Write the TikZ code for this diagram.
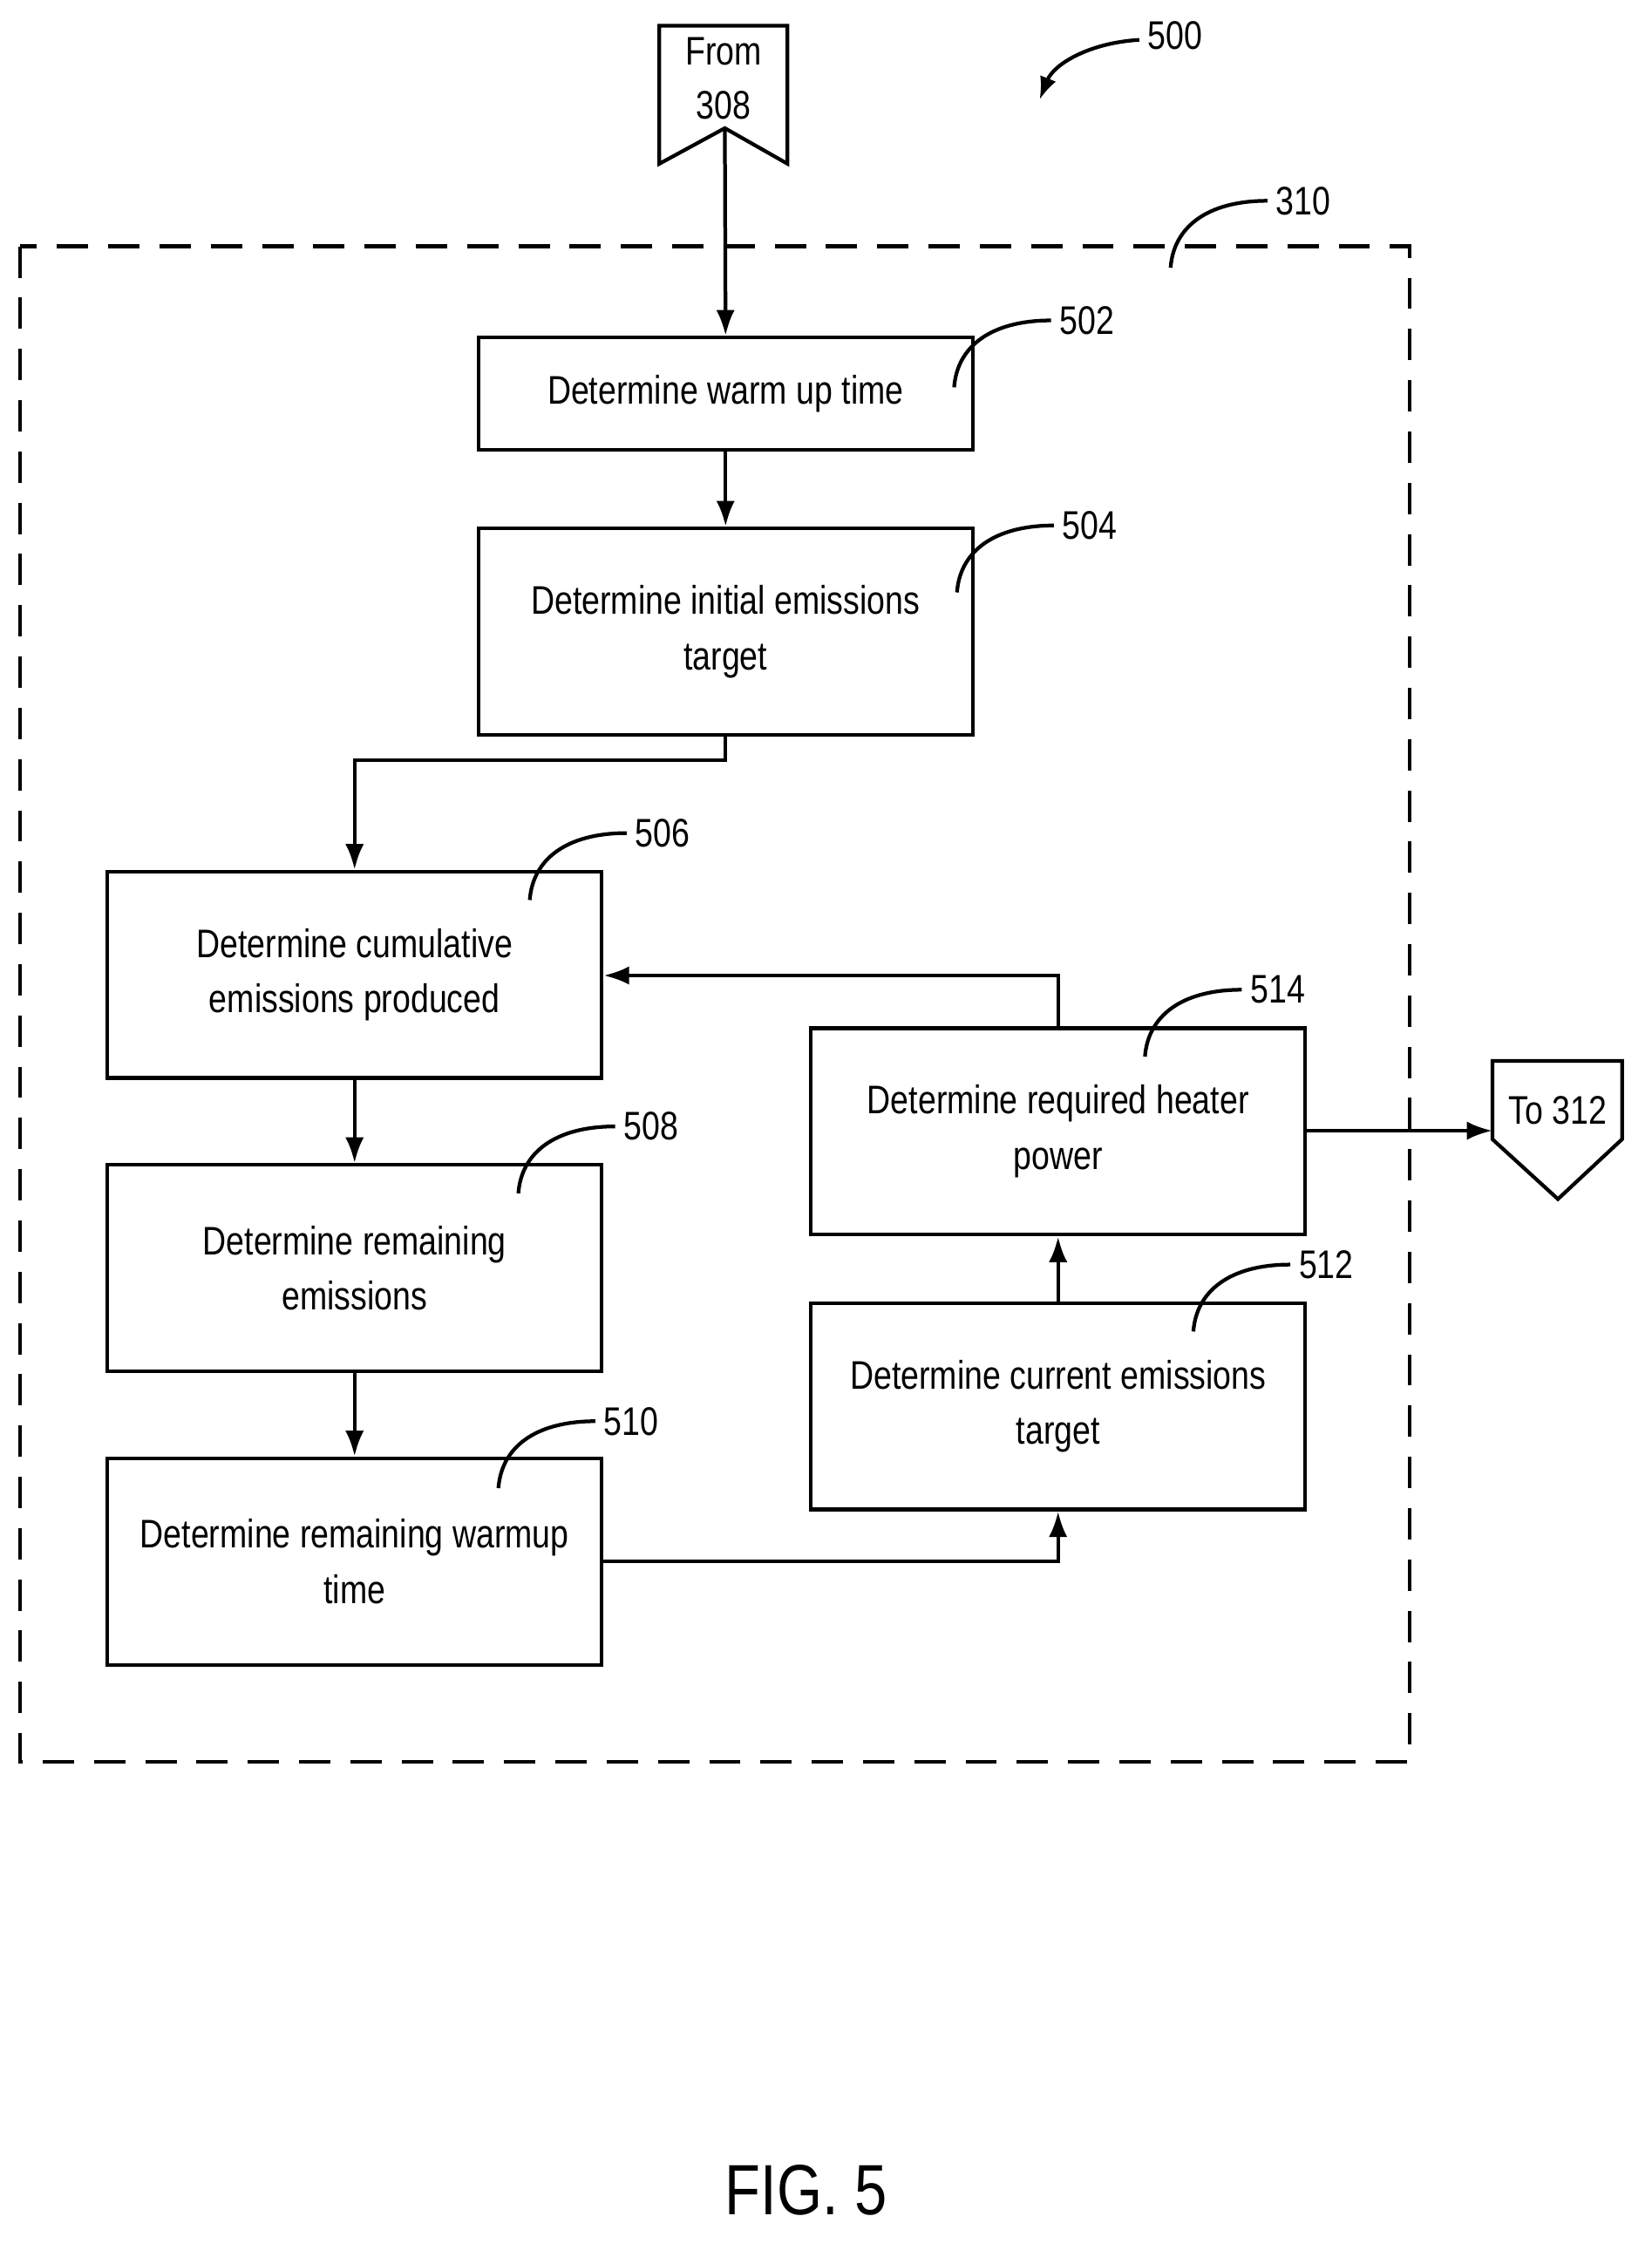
\documentclass[tikz,border=0pt]{standalone}
\usepackage{fontspec}
\setmainfont{Liberation Sans}[FakeStretch=0.82]
\usetikzlibrary{arrows.meta}
\begin{document}
\begin{tikzpicture}[x=1pt,y=-1pt,
  box/.style={draw,line width=2.6pt,minimum width=347pt,align=center,font=\fontsize{28}{39}\selectfont,inner sep=0pt},
  arr/.style={line width=2.6pt,-{Latex[length=18pt,width=13pt]}},
  ln/.style={line width=2.6pt},
  lead/.style={line width=2.6pt},
  lab/.style={font=\fontsize{28}{30}\selectfont,anchor=west,inner sep=0pt}]
\useasboundingbox (0,0) rectangle (1160,1580);
\draw[line width=2.6pt,dash pattern=on 22pt off 14pt] (14,173) rectangle (990,1237);
% boxes
\node[box,minimum height=79pt] (b502) at (509.5,276.5) {Determine warm up time};
\node[box,minimum height=145pt] (b504) at (509.5,443.5) {Determine initial emissions\\target};
\node[box,minimum height=145pt] (b506) at (249,684.5) {Determine cumulative\\emissions produced};
\node[box,minimum height=145pt] (b508) at (249,890.5) {Determine remaining\\emissions};
\node[box,minimum height=145pt] (b510) at (249,1096.5) {Determine remaining warmup\\time};
\node[box,minimum height=145pt] (b514) at (743,794.5) {Determine required heater\\power};
\node[box,minimum height=145pt] (b512) at (743,987.5) {Determine current emissions\\target};
% connectors (off-page)
\draw[ln,fill=white] (463,18) -- (553,18) -- (553,115) -- (509,90) -- (463,115) -- cycle;
\node[font=\fontsize{28}{38}\selectfont,align=center,inner sep=0pt] (from) at (508,55) {From\\308};
\coordinate (fromtip) at (509,90);
\draw[ln,fill=white] (1048,745) -- (1139,745) -- (1139,800) -- (1094,842) -- (1048,800) -- cycle;
\node[font=\fontsize{28}{30}\selectfont,inner sep=0pt] (to) at (1094,780) {To 312};
\coordinate (toin) at (1048,794);
% arrows
\draw[arr] (fromtip) -- (b502.north);
\draw[arr] (b502.south) -- (b504.north);
\draw[arr] (b504.south) |- (249,534) -- (b506.north);
\draw[arr] (b506.south) -- (b508.north);
\draw[arr] (b508.south) -- (b510.north);
\draw[arr] (b510.east) -| (b512.south);
\draw[arr] (b512.north) -- (b514.north |- b514.south);
\draw[arr] (b514.north) |- (b506.east |- 0,685);
\draw[arr] (b514.east |- 0,794) -- (toin);
% leaders and labels
\foreach \sx/\sy/\t/\n in {670/272/502/l502,672/416/504/l504,372/632/506/l506,364/838/508/l508,350/1045/510/l510,804/742/514/l514,838/935/512/l512,822/188/310/l310}{
  \draw[lead] (\sx,\sy) .. controls (\sx+2,\sy-28) and (\sx+25,\sy-47) .. (\sx+68,\sy-47);
  \node[lab] (\n) at (\sx+74,\sy-47) {\t};
}
\draw[line width=2.6pt,-{Latex[length=16pt,width=12pt]}] (800,28) .. controls (765,30) and (740,45) .. (730,70);
\node[lab] (l500) at (806,25) {500};
\node[font=\fontsize{50}{52}\selectfont,inner sep=0pt] (fig) at (566,1538) {FIG. 5};
\end{tikzpicture}
\end{document}
